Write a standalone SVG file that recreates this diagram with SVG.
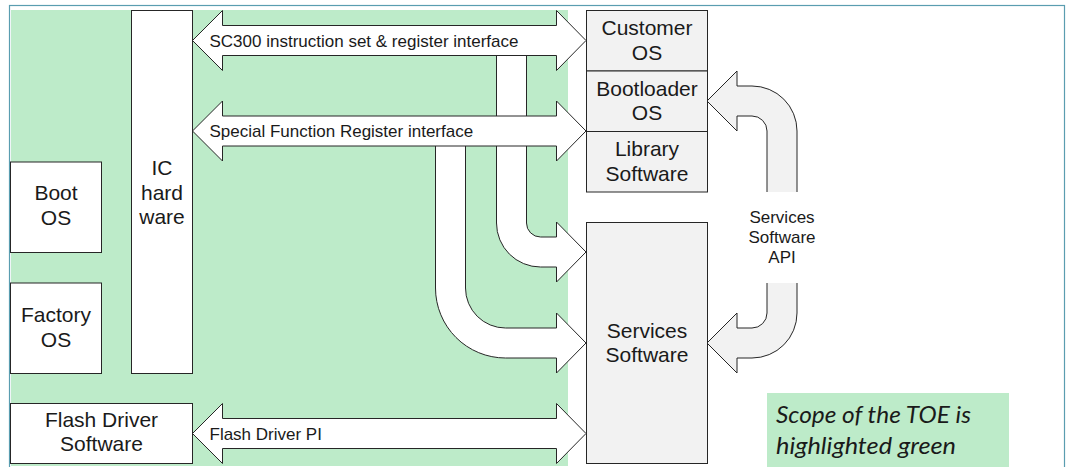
<svg xmlns="http://www.w3.org/2000/svg" width="1066" height="467" viewBox="0 0 1066 467">
<style>
.box{stroke:#262626;stroke-width:1}
.w{fill:#ffffff}
.g{fill:#f2f2f2}
.lbl{font-family:"Liberation Sans",Arial,sans-serif;font-size:21px;fill:#1a1a1a;text-anchor:middle}
.al{font-family:"Liberation Sans",Arial,sans-serif;font-size:17px;fill:#1a1a1a}
.arr{fill:#ffffff;stroke:#262626;stroke-width:1;stroke-linejoin:miter}
.garr{fill:#f2f2f2;stroke:#262626;stroke-width:1}
.note{font-family:Lato,"Open Sans",sans-serif;font-style:italic;font-size:24px;fill:#1a1a1a}
</style>
<rect x="0" y="0" width="1066" height="467" fill="#ffffff"/>
<rect x="9.5" y="5.5" width="1055" height="480" fill="none" stroke="#5a9db0" stroke-width="1.2"/>
<rect id="toe-scope" x="11" y="10" width="557" height="456" fill="#bdebc9"/>

<g id="connectors">
  <path id="bent-instr" class="arr" d="M496.5,50 L496.5,223 A44,44 0 0 0 540.5,267 L556.5,267 L556.5,282 L586,252 L556.5,222 L556.5,237 L540.5,237 A14,14 0 0 1 526.5,223 L526.5,50 Z"/>
  <path id="bent-sfr" class="arr" d="M435.5,140 L435.5,288 A70,70 0 0 0 505.5,358 L556.5,358 L556.5,373 L586,343 L556.5,313 L556.5,328 L505.5,328 A40,40 0 0 1 465.5,288 L465.5,140 Z"/>
  <path id="arr-sc300" class="arr" d="M192.5,40.5 L222.5,10.5 L222.5,25.5 L556.5,25.5 L556.5,10.5 L586,40.5 L556.5,70.5 L556.5,55.5 L222.5,55.5 L222.5,70.5 Z"/>
  <path id="arr-sfr" class="arr" d="M192.5,131 L222.5,101 L222.5,116 L556.5,116 L556.5,101 L586,131 L556.5,161 L556.5,146 L222.5,146 L222.5,161 Z"/>
  <path id="arr-flash" class="arr" d="M192.5,433.5 L222.5,403.5 L222.5,418.5 L556.5,418.5 L556.5,403.5 L586,433.5 L556.5,463.5 L556.5,448.5 L222.5,448.5 L222.5,463.5 Z"/>
  <path id="api-up" class="garr" d="M767,192 L767,131 A15,15 0 0 0 752,116 L737,116 L737,131 L707,101 L737,71 L737,86 L752,86 A45,45 0 0 1 797,131 L797,192"/>
  <path id="api-down" class="garr" d="M767,283 L767,313 A15,15 0 0 1 752,328 L737,328 L737,313 L707,343 L737,373 L737,358 L752,358 A45,45 0 0 0 797,313 L797,283"/>
  <text class="al" x="209.5" y="46.5">SC300 instruction set &amp; register interface</text>
  <text class="al" x="209.5" y="137">Special Function Register interface</text>
  <text class="al" x="209.5" y="439.5">Flash Driver PI</text>
  <text class="al" x="782" y="223" text-anchor="middle">Services</text>
  <text class="al" x="782" y="243" text-anchor="middle">Software</text>
  <text class="al" x="782" y="263" text-anchor="middle">API</text>
</g>

<g id="ic-hardware">
  <rect class="box w" x="131.5" y="10.5" width="61" height="363"/>
  <text class="lbl" x="162" y="175">IC</text>
  <text class="lbl" x="162" y="199.5">hard</text>
  <text class="lbl" x="162" y="224">ware</text>
</g>
<g id="boot-os">
  <rect class="box w" x="10.5" y="162" width="91" height="90.5"/>
  <text class="lbl" x="56" y="200">Boot</text>
  <text class="lbl" x="56" y="224.5">OS</text>
</g>
<g id="factory-os">
  <rect class="box w" x="10.5" y="283" width="91" height="90.5"/>
  <text class="lbl" x="56" y="322">Factory</text>
  <text class="lbl" x="56" y="346.5">OS</text>
</g>
<g id="flash-driver">
  <rect class="box w" x="10.5" y="403.5" width="182" height="60"/>
  <text class="lbl" x="101.5" y="426.5">Flash Driver</text>
  <text class="lbl" x="101.5" y="451">Software</text>
</g>
<g id="customer-os">
  <rect class="box g" x="586.5" y="10.5" width="121" height="60.5"/>
  <text class="lbl" x="647" y="35">Customer</text>
  <text class="lbl" x="647" y="59.5">OS</text>
</g>
<g id="bootloader-os">
  <rect class="box g" x="586.5" y="71" width="121" height="60.5"/>
  <text class="lbl" x="647" y="95.5">Bootloader</text>
  <text class="lbl" x="647" y="120">OS</text>
</g>
<g id="library-software">
  <rect class="box g" x="586.5" y="131.5" width="121" height="60.5"/>
  <text class="lbl" x="647" y="156">Library</text>
  <text class="lbl" x="647" y="180.5">Software</text>
</g>
<g id="services-software">
  <rect class="box g" x="586.5" y="222.5" width="121" height="241"/>
  <text class="lbl" x="647" y="337.5">Services</text>
  <text class="lbl" x="647" y="362">Software</text>
</g>
<g id="legend">
  <rect x="767" y="393" width="242" height="74" fill="#bdebc9"/>
  <text class="note" x="776" y="423" textLength="195" lengthAdjust="spacingAndGlyphs">Scope of the TOE is</text>
  <text class="note" x="776" y="453.5" textLength="180" lengthAdjust="spacingAndGlyphs">highlighted green</text>
</g>
</svg>
